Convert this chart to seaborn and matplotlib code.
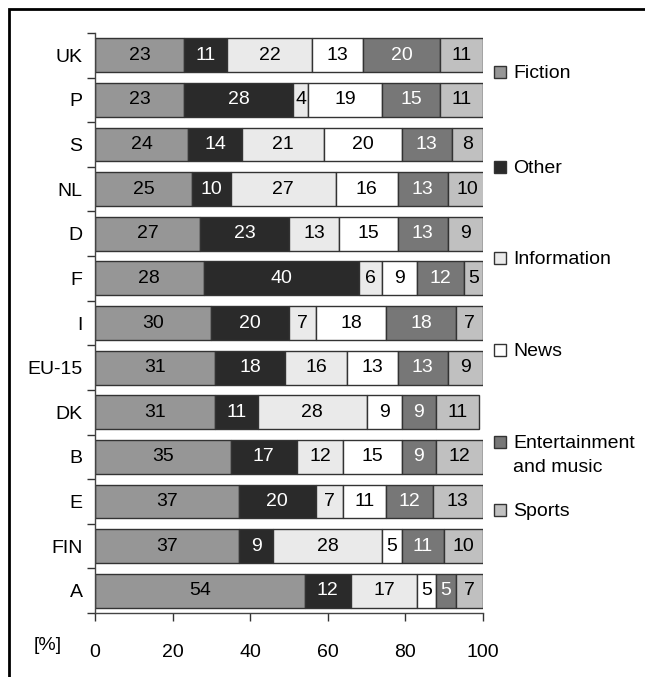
import matplotlib
matplotlib.use("Agg")
import matplotlib.pyplot as plt
from matplotlib.patches import Rectangle
from matplotlib.ticker import FixedLocator
import numpy as np
import pandas as pd
import seaborn as sns

sns.set_theme(style="white")
plt.rcParams["font.family"] = ["Liberation Sans", "DejaVu Sans"]
plt.rcParams["text.color"] = "black"
plt.rcParams["xtick.labelcolor"] = "black"
plt.rcParams["ytick.labelcolor"] = "black"

countries = ["UK", "P", "S", "NL", "D", "F", "I", "EU-15", "DK", "B", "E", "FIN", "A"]
genres = ["Fiction", "Other", "Information", "News", "Entertainment\nand music", "Sports"]
fiction = [23, 23, 24, 25, 27, 28, 30, 31, 31, 35, 37, 37, 54]
other = [11, 28, 14, 10, 23, 40, 20, 18, 11, 17, 20, 9, 12]
information = [22, 4, 21, 27, 13, 6, 7, 16, 28, 12, 7, 28, 17]
news = [13, 19, 20, 16, 15, 9, 18, 13, 9, 15, 11, 5, 5]
entertainment = [20, 15, 13, 13, 13, 12, 18, 13, 9, 9, 12, 11, 5]
sports = [11, 11, 8, 10, 9, 5, 7, 9, 11, 12, 13, 10, 7]
xticks = [0, 20, 40, 60, 80, 100]

colors = ["#969696", "#2a2a2a", "#eaeaea", "#ffffff", "#777777", "#c0c0c0"]
text_colors = ["black", "white", "black", "black", "white", "black"]
edge = "#333333"

series = [fiction, other, information, news, entertainment, sports]
df = pd.DataFrame({g: v for g, v in zip(genres, series)})
df["country"] = countries

W, H = 645, 677
fig = plt.figure(figsize=(W / 100, H / 100), dpi=100)
ax = fig.add_axes([95 / W, 64 / H, 388 / W, 580 / H])

# stacked horizontal bars, one genre at a time
left = np.zeros(len(countries))
for g, col, tcol in zip(genres, colors, text_colors):
    sns.barplot(data=df, x=g, y="country", left=left, color=col, orient="h",
                width=0.76, edgecolor=edge, linewidth=1.0, ax=ax,
                saturation=1)
    vals = df[g].to_numpy()
    for i, v in enumerate(vals):
        ax.text(left[i] + v / 2, i, f"{v}", ha="center", va="center",
                color=tcol, fontsize=14)
    left = left + vals

ax.set_xlim(0, 100)
ax.set_ylim(len(countries) - 0.5, -0.5)
ax.set_xlabel("")
ax.set_ylabel("")
ax.set_xticks(xticks)
ax.set_xticklabels([str(t) for t in xticks], fontsize=14)
ax.tick_params(axis="x", which="major", direction="out", length=6, width=1,
               color=edge, bottom=True, pad=16, labelcolor="black")
ax.tick_params(axis="y", which="major", length=0, labelsize=14, pad=9,
               labelcolor="black")
ax.yaxis.set_minor_locator(FixedLocator(np.arange(-0.5, len(countries), 1.0)))
ax.tick_params(axis="y", which="minor", direction="out", length=6, width=1,
               color=edge, left=True)
for t in ax.xaxis.get_major_ticks():
    t.set_pad(16)
for s in ["top", "right"]:
    ax.spines[s].set_visible(False)
for s in ["left", "bottom"]:
    ax.spines[s].set_color("#444444")
    ax.spines[s].set_linewidth(1.0)

# unit label beside the x tick labels
ax.text(-33 / 388, -33 / 580, "[%]", transform=ax.transAxes, fontsize=14,
        ha="right", va="center", color="black")

# legend entries on the right
legend_y = [72, 167, 258, 350, 442, 510]
for g, col, y in zip(genres, colors, legend_y):
    fig.patches.append(Rectangle((494 / W, 1 - (y + 6) / H), 12 / W, 12 / H,
                                 transform=fig.transFigure, facecolor=col,
                                 edgecolor=edge, linewidth=1.0))
    fig.text(513 / W, 1 - (y - 7) / H, g, fontsize=14, ha="left", va="top",
             linespacing=1.5, color="black")

# frame around the figure
fig.patches.append(Rectangle((8.5 / W, -0.1), 2, 1.1 - 8.5 / H,
                             transform=fig.transFigure, fill=False,
                             edgecolor="black", linewidth=2.0))

fig.savefig("out.png", dpi=100)
